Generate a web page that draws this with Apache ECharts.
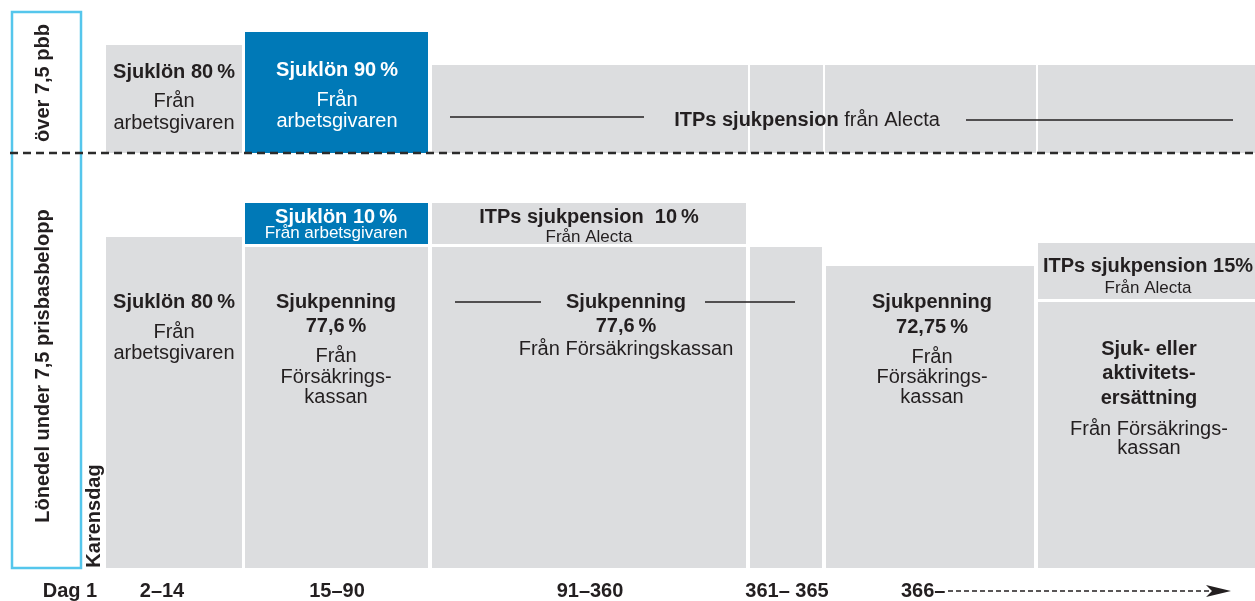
<!DOCTYPE html>
<html>
<head>
<meta charset="utf-8">
<script src="https://cdn.jsdelivr.net/npm/echarts@6/dist/echarts.min.js"></script>
<style>
  html, body { margin: 0; padding: 0; background: #fff; }
  #chart { width: 1255px; height: 601px; }
</style>
</head>
<body>
<div id="chart"></div>
<script>
// höjder räknas uppåt från baslinjen (0), bredder i samma enhet som x-axeln
const GREY = '#dcdddf'
const BLUE = '#0079b7'
const INK = '#231f20'

// perioder (dagar) längs nederkanten
const periods = ['Dag 1', '2\u201314', '15\u201390', '91\u2013360', '361\u2013 365', '366\u2013']
const periodX = [70, 162, 337, 590, 787, 901]

// block över 7,5 pbb: [x0, x1, botten, topp]
const upperBlocks = [
  [106, 242, 415, 523],
  [245, 428, 415, 536],
  [432, 748, 415, 503],
  [750, 823, 415, 503],
  [825, 1036, 415, 503],
  [1038, 1255, 415, 503]
]
const upperFill = [GREY, BLUE, GREY, GREY, GREY, GREY]

// block under 7,5 prisbasbelopp
const lowerBlocks = [
  [106, 242, 0, 331],
  [245, 428, 324, 365],
  [245, 428, 0, 321],
  [432, 746, 324, 365],
  [432, 746, 0, 321],
  [750, 822, 0, 321],
  [826, 1034, 0, 302],
  [1038, 1255, 269, 325],
  [1038, 1255, 0, 266]
]
const lowerFill = [GREY, BLUE, GREY, GREY, GREY, GREY, GREY, GREY, GREY]

// texter: [x, y, text, stil]
const labels = [
  [174, 496, 'Sjuklön 80\u2009%', 'b'],
  [174, 467, 'Från', 'r'],
  [174, 445, 'arbetsgivaren', 'r'],
  [337, 498, 'Sjuklön 90\u2009%', 'bw'],
  [337, 468, 'Från', 'rw'],
  [337, 447, 'arbetsgivaren', 'rw'],
  [807, 448, '{b|ITPs sjukpension} från Alecta', 'mix'],
  [336, 351, 'Sjuklön 10\u2009%', 'bw'],
  [336, 335, 'Från arbetsgivaren', 'sw'],
  [589, 351, 'ITPs sjukpension  10\u2009%', 'b'],
  [589, 331, 'Från Alecta', 's'],
  [174, 266, 'Sjuklön 80\u2009%', 'b'],
  [174, 236, 'Från', 'r'],
  [174, 215, 'arbetsgivaren', 'r'],
  [336, 266, 'Sjukpenning', 'b'],
  [336, 242, '77,6\u2009%', 'b'],
  [336, 212, 'Från', 'r'],
  [336, 191, 'Försäkrings-', 'r'],
  [336, 171, 'kassan', 'r'],
  [626, 266, 'Sjukpenning', 'b'],
  [626, 242, '77,6\u2009%', 'b'],
  [626, 219, 'Från Försäkringskassan', 'r'],
  [932, 266, 'Sjukpenning', 'b'],
  [932, 241, '72,75\u2009%', 'b'],
  [932, 211, 'Från', 'r'],
  [932, 191, 'Försäkrings-', 'r'],
  [932, 171, 'kassan', 'r'],
  [1148, 302, 'ITPs sjukpension 15%', 'b'],
  [1148, 280, 'Från Alecta', 's'],
  [1149, 219, 'Sjuk- eller', 'b'],
  [1149, 195, 'aktivitets-', 'b'],
  [1149, 170, 'ersättning', 'b'],
  [1149, 139, 'Från Försäkrings-', 'r'],
  [1149, 120, 'kassan', 'r']
]

// lodräta rubriker: [x, y, text]
const sideLabels = [
  [43, 485, 'över 7,5 pbb'],
  [43, 202, 'Lönedel under 7,5 prisbasbelopp'],
  [94, 52, 'Karensdag']
]

// linjer: [x0, x1, y]
const rules = [
  [450, 644, 451],
  [966, 1233, 448],
  [455, 541, 266],
  [705, 795, 266]
]

const FONT = '"Liberation Sans", Arial, sans-serif'
const textStyles = {
  b: { fontWeight: 'bold', fontSize: 20, fill: INK },
  r: { fontWeight: 'normal', fontSize: 20, fill: INK },
  bw: { fontWeight: 'bold', fontSize: 20, fill: '#fff' },
  rw: { fontWeight: 'normal', fontSize: 20, fill: '#fff' },
  s: { fontWeight: 'normal', fontSize: 17, fill: INK },
  sw: { fontWeight: 'normal', fontSize: 17, fill: '#fff' },
  mix: { fontWeight: 'normal', fontSize: 20, fill: INK }
}

const chart = echarts.init(document.getElementById('chart'), null, { renderer: 'canvas' })

function rectItem(fills) {
  return function (params, api) {
    const p0 = api.coord([api.value(0), api.value(3)])
    const p1 = api.coord([api.value(1), api.value(2)])
    return {
      type: 'rect',
      shape: { x: p0[0], y: p0[1], width: p1[0] - p0[0], height: p1[1] - p0[1] },
      style: { fill: fills[params.dataIndex] }
    }
  }
}

const option = {
  animation: false,
  grid: { left: 0, right: 0, top: 0, bottom: 0 },
  xAxis: { type: 'value', min: 0, max: 1255, show: false },
  yAxis: { type: 'value', min: -33, max: 568, show: false },
  series: [
    {
      type: 'custom',
      silent: true,
      data: upperBlocks,
      renderItem: rectItem(upperFill)
    },
    {
      type: 'custom',
      silent: true,
      data: lowerBlocks,
      renderItem: rectItem(lowerFill)
    },
    {
      // ram runt de lodräta rubrikerna + streckad gräns vid 7,5 pbb
      type: 'custom',
      silent: true,
      data: [[0]],
      renderItem: function (params, api) {
        const a = api.coord([12, 556])
        const b = api.coord([81, 0])
        const d0 = api.coord([10, 415])
        const d1 = api.coord([1255, 415])
        return {
          type: 'group',
          children: [
            {
              type: 'rect',
              shape: { x: a[0], y: a[1], width: b[0] - a[0], height: b[1] - a[1] },
              style: { fill: 'none', stroke: '#55c6ec', lineWidth: 2.5 }
            },
            {
              type: 'line',
              shape: { x1: d0[0], y1: d0[1], x2: d1[0], y2: d1[1] },
              style: { stroke: '#2b2b2b', lineWidth: 2.5, lineDash: [8, 5] }
            }
          ]
        }
      }
    },
    {
      type: 'custom',
      silent: true,
      data: rules,
      renderItem: function (params, api) {
        const p0 = api.coord([api.value(0), api.value(2)])
        const p1 = api.coord([api.value(1), api.value(2)])
        return {
          type: 'line',
          shape: { x1: p0[0], y1: p0[1], x2: p1[0], y2: p1[1] },
          style: { stroke: INK, lineWidth: 1.6 }
        }
      }
    },
    {
      type: 'custom',
      silent: true,
      data: labels.map(l => [l[0], l[1]]),
      renderItem: function (params, api) {
        const l = labels[params.dataIndex]
        const p = api.coord([api.value(0), api.value(1)])
        const st = textStyles[l[3]]
        return {
          type: 'text',
          x: p[0],
          y: p[1],
          style: {
            text: l[2],
            fontFamily: FONT,
            fontSize: st.fontSize,
            fontWeight: st.fontWeight,
            fill: st.fill,
            align: 'center',
            verticalAlign: 'middle',
            rich: { b: { fontWeight: 'bold', fontSize: 20, fontFamily: FONT, fill: INK } }
          }
        }
      }
    },
    {
      type: 'custom',
      silent: true,
      data: sideLabels.map(l => [l[0], l[1]]),
      renderItem: function (params, api) {
        const p = api.coord([api.value(0), api.value(1)])
        return {
          type: 'text',
          x: p[0],
          y: p[1],
          rotation: Math.PI / 2,
          style: {
            text: sideLabels[params.dataIndex][2],
            fontFamily: FONT,
            fontSize: 20,
            fontWeight: 'bold',
            fill: INK,
            align: 'center',
            verticalAlign: 'middle'
          }
        }
      }
    },
    {
      // dagar längs nederkanten
      type: 'custom',
      silent: true,
      data: periodX.map(x => [x, -23]),
      renderItem: function (params, api) {
        const i = params.dataIndex
        const p = api.coord([api.value(0), api.value(1)])
        const last = i === periods.length - 1
        const children = [{
          type: 'text',
          x: p[0],
          y: p[1],
          style: {
            text: periods[i],
            fontFamily: FONT,
            fontSize: 20,
            fontWeight: 'bold',
            fill: INK,
            align: last ? 'left' : 'center',
            verticalAlign: 'middle'
          }
        }]
        if (last) {
          // streckad pil mot höger
          const a0 = api.coord([948, -23])
          const a1 = api.coord([1210, -23])
          const tip = api.coord([1231, -23])
          children.push({
            type: 'line',
            shape: { x1: a0[0], y1: a0[1], x2: a1[0], y2: a1[1] },
            style: { stroke: INK, lineWidth: 1.5, lineDash: [5, 3] }
          })
          children.push({
            type: 'polygon',
            shape: { points: [[a1[0] - 4, a1[1] - 6], [tip[0], tip[1]], [a1[0] - 4, a1[1] + 6], [a1[0] + 2, a1[1]]] },
            style: { fill: INK }
          })
        }
        return { type: 'group', children: children }
      }
    }
  ]
}

chart.setOption(option)
window.addEventListener('resize', () => chart.resize())
</script>
</body>
</html>
